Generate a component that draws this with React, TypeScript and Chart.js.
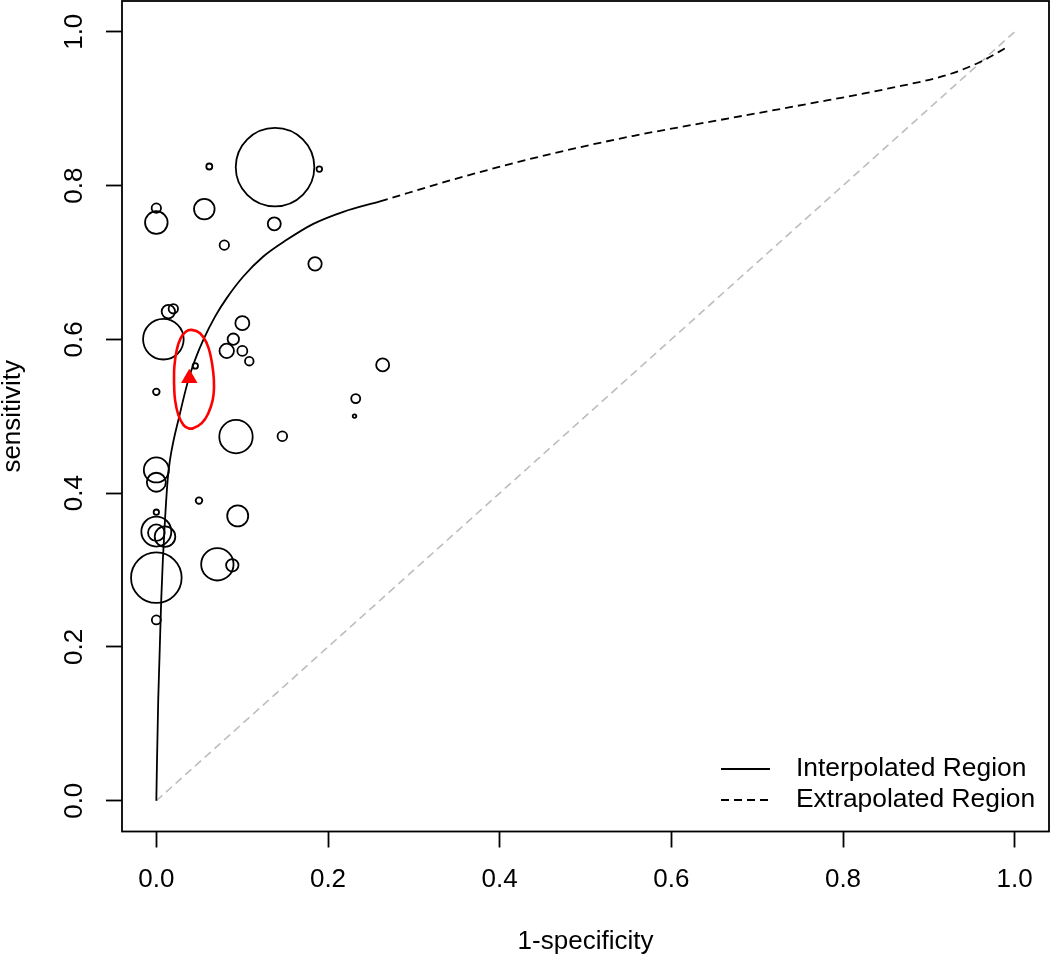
import React, { useEffect, useRef } from "react";
import { Chart, registerables } from "chart.js";

Chart.register(...registerables);

// ---------- data ----------
const tickValues = [0, 0.2, 0.4, 0.6, 0.8, 1.0];

// individual studies: 1-specificity, sensitivity, circle radius (study weight)
const studyFpr = [
  0.1383, 0.1899, 0.0617, 0.0, 0.0, 0.0559, 0.1374, 0.0792, 0.1849, 0.014,
  0.0198, 0.0082, 0.1002, 0.082, 0.0897, 0.1002, 0.1083, 0.0454, 0.0, 0.2637,
  0.2323, 0.2309, 0.0928, 0.1468, 0.0, 0.0, 0.0497, 0.0, 0.0, 0.0,
  0.0101, 0.0948, 0.0711, 0.0885, 0.0, 0.0,
];
const studySens = [
  0.824, 0.8214, 0.8248, 0.7707, 0.7519, 0.7694, 0.7502, 0.7225, 0.6982, 0.6361,
  0.6397, 0.6002, 0.6211, 0.585, 0.6002, 0.585, 0.5716, 0.5655, 0.5317, 0.5668,
  0.523, 0.5002, 0.4735, 0.474, 0.4302, 0.4142, 0.3903, 0.3752, 0.35, 0.3486,
  0.3434, 0.3704, 0.3075, 0.3062, 0.2901, 0.2351,
];
const studyWeight = [
  39.3, 2.8, 3.0, 4.7, 11.3, 10.3, 6.5, 4.7, 6.7, 6.7,
  4.7, 20.3, 7.0, 7.2, 5.7, 5.0, 4.3, 2.7, 3.3, 6.5,
  4.5, 1.8, 16.7, 4.8, 12.5, 9.5, 3.3, 2.7, 15.0, 8.3,
  10.3, 10.5, 16.2, 6.2, 25.3, 4.5,
];

// summary operating point
const summaryFpr = [0.0384];
const summarySens = [0.5495];

// SROC curve, interpolated part
const interpFpr = [
  0, 0.0008, 0.0022, 0.0036, 0.0057, 0.0076, 0.0101, 0.0132, 0.0159, 0.0276,
  0.0373, 0.0451, 0.0547, 0.0684, 0.082, 0.1013, 0.1246, 0.1519, 0.1829, 0.2178,
  0.2606,
];
const interpSens = [
  0, 0.0529, 0.1311, 0.1831, 0.2612, 0.3132, 0.3652, 0.4172, 0.4432, 0.504,
  0.5473, 0.5733, 0.5993, 0.6296, 0.6536, 0.6817, 0.7077, 0.7294, 0.7502, 0.7659,
  0.7795,
];

// SROC curve, extrapolated part
const extrapFpr = [0.2606, 0.3591, 0.4577, 0.5562, 0.6547, 0.7533, 0.8518, 0.9257, 0.9603, 0.9923];
const extrapSens = [0.7795, 0.812, 0.8406, 0.8647, 0.8849, 0.905, 0.9259, 0.9454, 0.961, 0.9805];

// confidence region outline around the summary point
const regionFpr = [
  0.0206, 0.0218, 0.0256, 0.0315, 0.0373, 0.0431, 0.0529, 0.0606, 0.0657, 0.0672,
  0.0664, 0.0634, 0.0587, 0.0509, 0.0412, 0.0346, 0.0284, 0.0238, 0.021, 0.0206,
];
const regionSens = [
  0.543, 0.5213, 0.5018, 0.4888, 0.4845, 0.4845, 0.491, 0.504, 0.5213, 0.5386,
  0.556, 0.5776, 0.595, 0.608, 0.6123, 0.6101, 0.6015, 0.5863, 0.5646, 0.543,
];

// chance line
const chanceFpr = [0, 1];
const chanceSens = [0, 1];

const legendLabels = ["Interpolated Region", "Extrapolated Region"];
const xTitle = "1-specificity";
const yTitle = "sensitivity";

// ---------- styling ----------
const FONT = '"Liberation Sans", Arial, Helvetica, sans-serif';
const LW = 1.8;

const toPoints = (xs: number[], ys: number[]) => xs.map((x, i) => ({ x, y: ys[i] }));

const framePlugin = {
  id: "rframe",
  afterDraw(chart: any) {
    const { ctx, chartArea: a, scales } = chart;
    ctx.save();
    // plot box
    ctx.strokeStyle = "#000";
    ctx.lineWidth = LW;
    ctx.setLineDash([]);
    ctx.strokeRect(a.left, a.top, a.right - a.left, a.bottom - a.top);

    // y tick labels, parallel to the axis
    ctx.fillStyle = "#000";
    ctx.font = `26px ${FONT}`;
    ctx.textAlign = "center";
    ctx.textBaseline = "alphabetic";
    const ys = scales.y;
    for (const v of tickValues) {
      const py = ys.getPixelForValue(v);
      ctx.save();
      ctx.translate(a.left - 40, py);
      ctx.rotate(-Math.PI / 2);
      ctx.fillText(v.toFixed(1), 0, 0);
      ctx.restore();
    }

    // legend (bottom right, no box)
    const rows = [a.bottom - 62.5, a.bottom - 31.5];
    const x0 = a.right - 328;
    const x1 = a.right - 279;
    const tx = a.right - 253;
    ctx.lineWidth = LW;
    ctx.strokeStyle = "#000";
    ctx.textAlign = "left";
    ctx.textBaseline = "middle";
    ctx.font = `26.4px ${FONT}`;
    legendLabels.forEach((label, i) => {
      ctx.setLineDash(i === 0 ? [] : [8, 5]);
      ctx.beginPath();
      ctx.moveTo(x0, rows[i]);
      ctx.lineTo(x1, rows[i]);
      ctx.stroke();
      ctx.fillText(label, tx, rows[i]);
    });
    ctx.restore();
  },
};

export default function App() {
  const canvasRef = useRef<HTMLCanvasElement | null>(null);

  useEffect(() => {
    if (!canvasRef.current) return;
    const chart = new Chart(canvasRef.current, {
      type: "scatter",
      data: {
        datasets: [
          {
            type: "scatter",
            label: "summary",
            data: toPoints(summaryFpr, summarySens),
            pointStyle: "triangle",
            pointRadius: 9.5,
            pointBackgroundColor: "#ff0000",
            pointBorderColor: "#ff0000",
            pointBorderWidth: 0,
            order: 0,
          },
          {
            type: "line",
            label: "region",
            data: toPoints(regionFpr, regionSens),
            borderColor: "#ff0000",
            borderWidth: 2.6,
            pointRadius: 0,
            fill: false,
            tension: 0.45,
            order: 1,
          },
          {
            type: "line",
            label: "interpolated",
            data: toPoints(interpFpr, interpSens),
            borderColor: "#000",
            borderWidth: LW,
            pointRadius: 0,
            fill: false,
            cubicInterpolationMode: "monotone",
            order: 2,
          },
          {
            type: "line",
            label: "extrapolated",
            data: toPoints(extrapFpr, extrapSens),
            borderColor: "#000",
            borderWidth: LW,
            borderDash: [8, 5],
            pointRadius: 0,
            fill: false,
            cubicInterpolationMode: "monotone",
            order: 3,
          },
          {
            type: "bubble",
            label: "studies",
            data: studyFpr.map((x, i) => ({ x, y: studySens[i], r: studyWeight[i] })),
            backgroundColor: "rgba(0,0,0,0)",
            borderColor: "#000",
            borderWidth: LW,
            order: 4,
          },
          {
            type: "line",
            label: "chance",
            data: toPoints(chanceFpr, chanceSens),
            borderColor: "#bdbdbd",
            borderWidth: 1.6,
            borderDash: [8, 5],
            pointRadius: 0,
            fill: false,
            order: 5,
          },
        ] as any,
      },
      options: {
        responsive: false,
        maintainAspectRatio: false,
        animation: false,
        events: [],
        layout: { autoPadding: false, padding: { top: 1, right: 1, bottom: 0, left: 0 } },
        plugins: {
          legend: { display: false },
          tooltip: { enabled: false },
        },
        scales: {
          x: {
            type: "linear",
            position: "bottom",
            min: -0.04,
            max: 1.04,
            afterBuildTicks: (s: any) => {
              s.ticks = tickValues.map((value) => ({ value }));
            },
            afterFit: (s: any) => {
              s.height = 128.5;
              s.paddingLeft = 0;
              s.paddingRight = 0;
            },
            grid: {
              display: true,
              drawOnChartArea: false,
              drawTicks: true,
              tickLength: 16,
              tickWidth: LW,
              tickColor: "#000",
            },
            border: { display: false },
            ticks: {
              color: "#000",
              font: { family: FONT, size: 26, lineHeight: 1.2 },
              padding: 17,
              maxRotation: 0,
              minRotation: 0,
              autoSkip: false,
              callback: (v: any) => Number(v).toFixed(1),
            },
            title: {
              display: true,
              text: xTitle,
              color: "#000",
              font: { family: FONT, size: 26, lineHeight: 1 },
              padding: { top: 0, bottom: 5 },
            },
          },
          y: {
            type: "linear",
            position: "left",
            min: -0.04,
            max: 1.04,
            afterBuildTicks: (s: any) => {
              s.ticks = tickValues.map((value) => ({ value }));
            },
            afterFit: (s: any) => {
              s.width = 122;
              s.paddingTop = 0;
              s.paddingBottom = 0;
            },
            grid: {
              display: true,
              drawOnChartArea: false,
              drawTicks: true,
              tickLength: 16,
              tickWidth: LW,
              tickColor: "#000",
            },
            border: { display: false },
            ticks: { display: false },
            title: {
              display: true,
              text: yTitle,
              color: "#000",
              font: { family: FONT, size: 26, lineHeight: 1 },
              padding: { top: 0, bottom: 0 },
            },
          },
        },
      } as any,
      plugins: [framePlugin],
    });
    return () => chart.destroy();
  }, []);

  return (
    <div style={{ position: "absolute", left: 0, top: 0, width: 1050, height: 960, background: "#fff" }}>
      <canvas ref={canvasRef} width={1050} height={960} style={{ display: "block" }} />
    </div>
  );
}
